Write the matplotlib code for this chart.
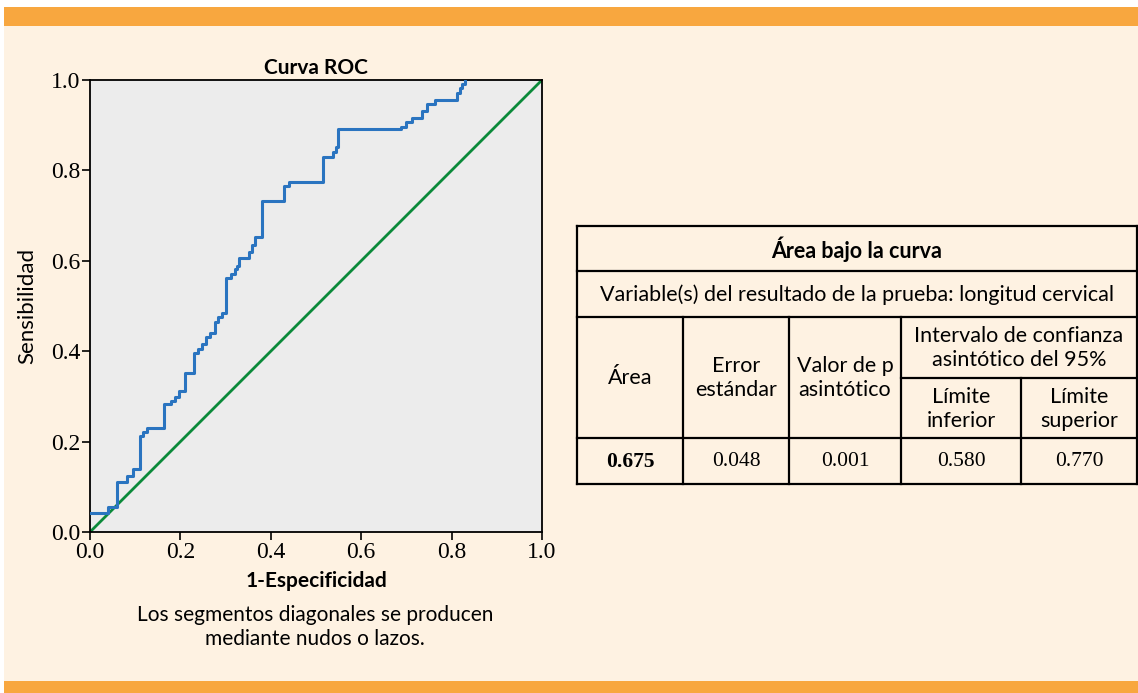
import matplotlib
matplotlib.use("Agg")
import matplotlib.pyplot as plt
from matplotlib.patches import Rectangle

# ROC curve vertices (1-specificity, sensitivity)
fpr = [0.0, 0.040, 0.040, 0.059, 0.059, 0.081, 0.081, 0.096, 0.096, 0.111, 0.111,
       0.118, 0.118, 0.125, 0.125, 0.164, 0.164, 0.179, 0.179, 0.188, 0.188,
       0.198, 0.198, 0.210, 0.210, 0.229, 0.229, 0.240, 0.240, 0.247, 0.247,
       0.257, 0.257, 0.265, 0.265, 0.277, 0.277, 0.284, 0.284, 0.291, 0.291,
       0.301, 0.301, 0.313, 0.313, 0.321, 0.321, 0.326, 0.326, 0.330, 0.330,
       0.352, 0.352, 0.358, 0.358, 0.365, 0.365, 0.380, 0.380, 0.430, 0.430,
       0.441, 0.441, 0.515, 0.515, 0.537, 0.537, 0.544, 0.544, 0.548, 0.548,
       0.688, 0.688, 0.699, 0.699, 0.712, 0.712, 0.734, 0.734, 0.745, 0.745,
       0.763, 0.763, 0.813, 0.813, 0.819, 0.819, 0.824, 0.824, 0.830, 0.830]
tpr = [0.043, 0.043, 0.056, 0.056, 0.111, 0.111, 0.125, 0.125, 0.139, 0.139, 0.212,
       0.212, 0.222, 0.222, 0.229, 0.229, 0.283, 0.283, 0.290, 0.290, 0.299,
       0.299, 0.312, 0.312, 0.352, 0.352, 0.397, 0.397, 0.404, 0.404, 0.417,
       0.417, 0.431, 0.431, 0.440, 0.440, 0.465, 0.465, 0.476, 0.476, 0.484,
       0.484, 0.561, 0.561, 0.570, 0.570, 0.581, 0.581, 0.588, 0.588, 0.607,
       0.607, 0.620, 0.620, 0.635, 0.635, 0.652, 0.652, 0.733, 0.733, 0.765,
       0.765, 0.775, 0.775, 0.829, 0.829, 0.841, 0.841, 0.852, 0.852, 0.891,
       0.891, 0.897, 0.897, 0.906, 0.906, 0.915, 0.915, 0.932, 0.932, 0.946,
       0.946, 0.956, 0.956, 0.971, 0.971, 0.982, 0.982, 0.991, 0.991, 1.0]
ticks = [0.0, 0.2, 0.4, 0.6, 0.8, 1.0]

table_title = "Área bajo la curva"
table_subtitle = "Variable(s) del resultado de la prueba: longitud cervical"
col_headers = ["Área", "Error\nestándar", "Valor de p\nasintótico"]
ci_header = "Intervalo de confianza\nasintótico del 95%"
ci_subheaders = ["Límite\ninferior", "Límite\nsuperior"]
row_values = ["0.675", "0.048", "0.001", "0.580", "0.770"]

cream = "#fef2e2"
orange = "#f8a73f"
blue = "#2a74c0"
green = "#0b8a3a"
sans = ["Lato", "DejaVu Sans"]
serif = ["Liberation Serif", "DejaVu Serif"]

W, H = 1138, 693
fig = plt.figure(figsize=(W / 100, H / 100), dpi=100)
fig.patch.set_facecolor("white")

# background layer in pixel coordinates
bg = fig.add_axes([0, 0, 1, 1])
bg.set_xlim(0, W)
bg.set_ylim(H, 0)
bg.axis("off")
bg.add_patch(Rectangle((4, 7), W, 19, color=orange, lw=0))
bg.add_patch(Rectangle((4, 26), W, 655, color=cream, lw=0))
bg.add_patch(Rectangle((4, 681), W, 12, color=orange, lw=0))

# table
x_cols = [577, 683, 789, 901, 1021, 1137]
y_rows = [226, 271, 317, 378, 438, 484]
lw = 1.6
bg.plot([x_cols[0], x_cols[-1]], [y_rows[0], y_rows[0]], color="black", lw=lw)
bg.plot([x_cols[0], x_cols[-1]], [y_rows[1], y_rows[1]], color="black", lw=lw)
bg.plot([x_cols[0], x_cols[-1]], [y_rows[2], y_rows[2]], color="black", lw=lw)
bg.plot([x_cols[3], x_cols[-1]], [y_rows[3], y_rows[3]], color="black", lw=lw)
bg.plot([x_cols[0], x_cols[-1]], [y_rows[4], y_rows[4]], color="black", lw=lw)
bg.plot([x_cols[0], x_cols[-1]], [y_rows[5], y_rows[5]], color="black", lw=lw)
bg.plot([x_cols[0], x_cols[0]], [y_rows[0], y_rows[5]], color="black", lw=lw)
bg.plot([x_cols[-1], x_cols[-1]], [y_rows[0], y_rows[5]], color="black", lw=lw)
for xc in x_cols[1:3]:
    bg.plot([xc, xc], [y_rows[2], y_rows[5]], color="black", lw=lw)
bg.plot([x_cols[3], x_cols[3]], [y_rows[2], y_rows[5]], color="black", lw=lw)
bg.plot([x_cols[4], x_cols[4]], [y_rows[3], y_rows[5]], color="black", lw=lw)

fs = 15.5
xm = (x_cols[0] + x_cols[-1]) / 2
bg.text(xm, (y_rows[0] + y_rows[1]) / 2 + 1, table_title, ha="center", va="center",
        fontsize=fs, fontweight="bold", family=sans)
bg.text(xm, (y_rows[1] + y_rows[2]) / 2 + 1, table_subtitle, ha="center", va="center",
        fontsize=fs, family=sans)
for i, h in enumerate(col_headers):
    bg.text((x_cols[i] + x_cols[i + 1]) / 2, (y_rows[2] + y_rows[4]) / 2, h,
            ha="center", va="center", fontsize=fs, family=sans, linespacing=1.25)
bg.text((x_cols[3] + x_cols[5]) / 2, (y_rows[2] + y_rows[3]) / 2, ci_header,
        ha="center", va="center", fontsize=fs, family=sans, linespacing=1.25)
for i, h in enumerate(ci_subheaders):
    bg.text((x_cols[3 + i] + x_cols[4 + i]) / 2, (y_rows[3] + y_rows[4]) / 2 + 1, h,
            ha="center", va="center", fontsize=fs, family=sans, linespacing=1.25)
for i, v in enumerate(row_values):
    bg.text((x_cols[i] + x_cols[i + 1]) / 2, (y_rows[4] + y_rows[5]) / 2 + 1, v,
            ha="center", va="center", fontsize=fs, family=serif,
            fontweight="bold" if i == 0 else "normal")

# ROC axes
ax = fig.add_axes([90 / W, (H - 532) / H, 452 / W, 452 / H])
ax.set_facecolor("#ececec")
ax.plot([0, 1], [0, 1], color=green, lw=2, zorder=2)
ax.plot(fpr, tpr, color=blue, lw=2.2, zorder=3)
ax.set_xlim(0, 1)
ax.set_ylim(0, 1)
ax.set_xticks(ticks)
ax.set_yticks(ticks)
ax.set_xticklabels([f"{t:.1f}" for t in ticks], family=serif, fontsize=17)
ax.set_yticklabels([f"{t:.1f}" for t in ticks], family=serif, fontsize=17)
ax.tick_params(direction="out", length=6, width=1.2, pad=1)
for s in ax.spines.values():
    s.set_linewidth(1.3)
ax.set_title("Curva ROC", fontsize=15, fontweight="bold", family=sans, pad=4)
ax.set_xlabel("1-Especificidad", fontsize=15, fontweight="bold", family=sans, labelpad=6)
ax.set_ylabel("Sensibilidad", fontsize=16, family=sans, labelpad=10)

bg.text(315, 627, "Los segmentos diagonales se producen\nmediante nudos o lazos.",
        ha="center", va="center", fontsize=15, family=sans, linespacing=1.3)

fig.savefig("out.png", dpi=100, facecolor=fig.get_facecolor())
